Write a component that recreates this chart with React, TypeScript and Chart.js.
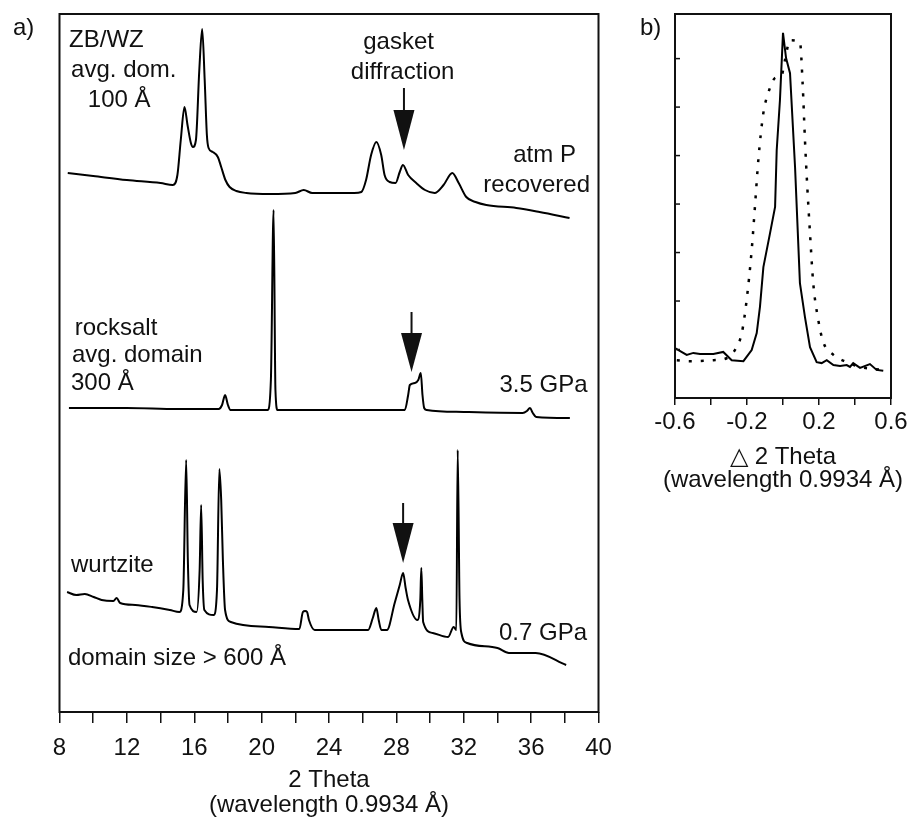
import React, { useEffect, useRef } from 'react';
import { Chart, registerables } from 'chart.js';

Chart.register(...registerables);

// ---------- Panel a: XRD patterns (2 Theta, intensity in arbitrary offset units) ----------
const thetaAtm = [8.49, 10, 12, 14, 14.73, 15.0, 15.2, 15.42, 15.6, 15.8, 15.92, 16.1, 16.3, 16.47, 16.62, 16.75, 16.85, 17.1, 17.4, 17.6, 17.85, 18.1, 18.5, 19.09, 20.5, 22.0, 22.5, 23.0, 25.5, 25.92, 26.2, 26.5, 26.81, 27.1, 27.3, 27.6, 27.95, 28.2, 28.39, 28.7, 29.18, 29.7, 30.27, 30.8, 31.32, 31.7, 32.15, 32.7, 33.34, 35.12, 36.5, 38.28];
const intAtm = [539, 536, 532, 529, 527, 537, 572, 605, 587, 569, 565, 572, 642, 683, 632, 577, 564, 560, 555, 545, 532, 525, 521, 519, 518, 519, 522, 519, 519, 520, 532, 557, 570, 557, 537, 530, 529, 540, 547, 537, 529, 522, 519, 527, 539, 529, 515, 510, 507, 504, 500, 494];

const thetaRock = [8.56, 12, 15, 17.45, 17.65, 17.83, 18.0, 18.15, 20.0, 20.35, 20.55, 20.71, 20.82, 20.95, 21.2, 25, 28.5, 28.7, 28.8, 29.1, 29.3, 29.45, 29.55, 29.65, 29.8, 32, 35.5, 35.75, 35.93, 36.1, 36.3, 38.3];
const intRock = [304, 304, 303, 303, 307, 317, 307, 302, 302, 302, 332, 502, 322, 302, 302, 302, 302, 317, 327, 329, 332, 339, 317, 304, 302, 300, 299, 301, 304, 299, 295, 294];

const thetaWurtz = [8.45, 9.0, 9.5, 10.03, 10.5, 11.2, 11.39, 11.6, 12.5, 13.5, 14.55, 15.12, 15.35, 15.52, 15.62, 15.72, 16.14, 16.32, 16.41, 16.5, 16.6, 17.15, 17.35, 17.49, 17.6, 17.7, 17.83, 18.17, 20.43, 22.24, 22.45, 22.58, 22.7, 22.81, 23.15, 26.32, 26.6, 26.81, 26.95, 27.11, 27.44, 27.9, 28.2, 28.4, 28.55, 28.69, 29.25, 29.42, 29.48, 29.54, 29.59, 30.16, 31.07, 31.4, 31.56, 31.64, 31.75, 31.86, 32.2, 34.0, 34.68, 36.27, 38.08];
const intWurtz = [120, 117, 118, 115, 112, 111, 114, 109, 107, 105, 102, 100, 122, 252, 152, 107, 100, 142, 207, 132, 102, 97, 122, 243, 212, 152, 102, 90, 85, 83, 100, 101, 100, 92, 82, 82, 94, 104, 92, 82, 82, 109, 127, 139, 124, 112, 92, 112, 144, 112, 90, 79, 75, 85, 82, 262, 112, 79, 69, 64, 59, 59, 47];

const xMinA = 8;
const xMaxA = 40;
const yMaxA = 698;

// ---------- Panel b: peak profiles (Delta 2 Theta) ----------
const deltaSolid = [-0.6, -0.535, -0.498, -0.461, -0.387, -0.332, -0.285, -0.22, -0.174, -0.146, -0.128, -0.109, -0.072, -0.044, -0.035, -0.017, 0.0, 0.017, 0.039, 0.067, 0.094, 0.122, 0.15, 0.187, 0.215, 0.243, 0.28, 0.317, 0.354, 0.372, 0.39, 0.428, 0.483, 0.52, 0.557];
const intSolid = [1.03, 0.89, 0.93, 0.91, 0.91, 0.95, 0.78, 0.76, 0.99, 1.34, 1.88, 2.7, 3.4, 3.94, 5.11, 6.14, 7.53, 7.01, 6.7, 4.76, 2.37, 1.67, 1.05, 0.74, 0.72, 0.78, 0.68, 0.66, 0.68, 0.64, 0.72, 0.62, 0.7, 0.58, 0.56];

const deltaDotted = [-0.59, -0.52, -0.387, -0.313, -0.267, -0.229, -0.202, -0.174, -0.156, -0.137, -0.109, -0.082, -0.044, -0.007, 0.011, 0.039, 0.094, 0.109, 0.122, 0.135, 0.15, 0.168, 0.196, 0.224, 0.28, 0.354, 0.428, 0.557];
const intDotted = [0.78, 0.76, 0.78, 0.82, 0.99, 1.34, 2.02, 3.05, 3.94, 4.91, 5.88, 6.29, 6.6, 6.66, 6.97, 7.38, 7.34, 6.49, 5.32, 4.35, 3.4, 2.37, 1.61, 1.15, 0.89, 0.74, 0.64, 0.58];

const xMinB = -0.6;
const xMaxB = 0.6;
const yMaxB = 7.92;
const yTicksB = [1, 2, 3, 4, 5, 6, 7];
const labeledB = [-0.6, -0.2, 0.2, 0.6];
const titleB = ['△ 2 Theta', '(wavelength 0.9934 Å)'];

// annotations of panel a (anchored in data units)
const notesA = [
  { text: 'ZB/WZ', x: 8.57, y: 672, align: 'left' },
  { text: 'avg. dom.', x: 8.69, y: 642, align: 'left' },
  { text: '100 Å', x: 9.68, y: 612, align: 'left' },
  { text: 'gasket', x: 28.13, y: 670, align: 'center' },
  { text: 'diffraction', x: 28.37, y: 640, align: 'center' },
  { text: 'atm P', x: 36.8, y: 557, align: 'center' },
  { text: 'recovered', x: 36.33, y: 527, align: 'center' },
  { text: 'rocksalt', x: 8.9, y: 384, align: 'left' },
  { text: 'avg. domain', x: 8.74, y: 357, align: 'left' },
  { text: '300 Å', x: 8.68, y: 329, align: 'left' },
  { text: '3.5 GPa', x: 39.35, y: 327, align: 'right' },
  { text: 'wurtzite', x: 8.68, y: 147, align: 'left' },
  { text: 'domain size > 600 Å', x: 8.5, y: 54, align: 'left' },
  { text: '0.7 GPa', x: 39.32, y: 79, align: 'right' },
];

const arrowsA = [
  { x: 28.45, top: 624, triTop: 602, tip: 562, half: 10.5 },
  { x: 28.9, top: 400, triTop: 379, tip: 340, half: 10.5 },
  { x: 28.4, top: 209, triTop: 189, tip: 149, half: 10.5 },
];

const FONT = '"Liberation Sans", Arial, Helvetica, sans-serif';
const INK = '#111';

const pts = (xs: number[], ys: number[]) => xs.map((x, i) => ({ x, y: ys[i] }));

function makeFramePlugin(notes: any[], arrows: any[], innerYTicks: number[], title: string[] | null) {
  return {
    id: 'frameNotes',
    afterDraw(chart: any) {
      const { ctx, chartArea: a, scales } = chart;
      ctx.save();
      ctx.strokeStyle = INK;
      ctx.lineWidth = 2;
      ctx.strokeRect(a.left, a.top, a.right - a.left, a.bottom - a.top);
      ctx.lineWidth = 1.5;
      for (const v of innerYTicks) {
        const py = scales.y.getPixelForValue(v);
        ctx.beginPath();
        ctx.moveTo(a.left, py);
        ctx.lineTo(a.left + 5, py);
        ctx.stroke();
      }
      for (const ar of arrows) {
        const px = scales.x.getPixelForValue(ar.x);
        const yTop = scales.y.getPixelForValue(ar.top);
        const yTri = scales.y.getPixelForValue(ar.triTop);
        const yTip = scales.y.getPixelForValue(ar.tip);
        ctx.lineWidth = 2;
        ctx.beginPath();
        ctx.moveTo(px, yTop);
        ctx.lineTo(px, yTri);
        ctx.stroke();
        ctx.fillStyle = INK;
        ctx.beginPath();
        ctx.moveTo(px - ar.half, yTri);
        ctx.lineTo(px + ar.half, yTri);
        ctx.lineTo(px, yTip);
        ctx.closePath();
        ctx.fill();
      }
      ctx.fillStyle = INK;
      ctx.font = `24px ${FONT}`;
      ctx.textBaseline = 'middle';
      for (const n of notes) {
        ctx.textAlign = n.align;
        ctx.fillText(n.text, scales.x.getPixelForValue(n.x), scales.y.getPixelForValue(n.y));
      }
      if (title) {
        ctx.textAlign = 'center';
        const cx = (a.left + a.right) / 2;
        title.forEach((t, i) => ctx.fillText(t, cx, a.bottom + 59 + i * 23));
      }
      ctx.restore();
    },
  };
}

function PanelA() {
  const ref = useRef<HTMLCanvasElement | null>(null);
  useEffect(() => {
    if (!ref.current) return;
    const line = { showLine: true, pointRadius: 0, borderColor: '#000', borderWidth: 2, cubicInterpolationMode: 'monotone', fill: false };
    const chart = new Chart(ref.current, {
      type: 'scatter',
      data: {
        datasets: [
          { ...line, label: 'atm P recovered', data: pts(thetaAtm, intAtm) },
          { ...line, label: '3.5 GPa', data: pts(thetaRock, intRock) },
          { ...line, label: '0.7 GPa', data: pts(thetaWurtz, intWurtz) },
        ],
      },
      options: {
        responsive: false,
        animation: false,
        devicePixelRatio: 1,
        layout: { padding: { left: 59.5, right: 41.5, top: 14, bottom: 0 } },
        plugins: { legend: { display: false }, tooltip: { enabled: false } },
        scales: {
          x: {
            type: 'linear',
            min: xMinA,
            max: xMaxA,
            afterFit: (s: any) => { s.height = 108; },
            border: { display: false },
            grid: { drawOnChartArea: false, drawTicks: true, tickLength: 11, color: INK, lineWidth: 1.5 },
            ticks: {
              stepSize: 2,
              autoSkip: false,
              maxRotation: 0,
              padding: 11,
              color: INK,
              font: { family: FONT, size: 24 },
              callback: (v: any) => (Number(v) % 4 === 0 ? String(v) : ''),
            },
            title: {
              display: true,
              text: ['2 Theta', '(wavelength 0.9934 Å)'],
              color: INK,
              font: { family: FONT, size: 24, lineHeight: '25px' },
              padding: { top: 0, bottom: 2.5 },
            },
          },
          y: { type: 'linear', min: 0, max: yMaxA, display: false },
        },
      },
      plugins: [makeFramePlugin(notesA, arrowsA, [], null)],
    });
    return () => chart.destroy();
  }, []);
  return <canvas ref={ref} width={640} height={820} style={{ width: 640, height: 820, display: 'block' }} />;
}

function PanelB() {
  const ref = useRef<HTMLCanvasElement | null>(null);
  useEffect(() => {
    if (!ref.current) return;
    const chart = new Chart(ref.current, {
      type: 'scatter',
      data: {
        datasets: [
          { label: 'solid', data: pts(deltaSolid, intSolid), showLine: true, pointRadius: 0, borderColor: '#000', borderWidth: 2, tension: 0 },
          { label: 'dotted', data: pts(deltaDotted, intDotted), showLine: true, pointRadius: 0, borderColor: '#000', borderWidth: 2.5, borderDash: [3, 9], cubicInterpolationMode: 'monotone' },
        ],
      },
      options: {
        responsive: false,
        animation: false,
        devicePixelRatio: 1,
        layout: { padding: { left: 35, right: 20, top: 14, bottom: 0 } },
        plugins: { legend: { display: false }, tooltip: { enabled: false } },
        scales: {
          x: {
            type: 'linear',
            min: xMinB,
            max: xMaxB,
            afterFit: (s: any) => { s.height = 102; },
            border: { display: false },
            grid: { drawOnChartArea: false, drawTicks: true, tickLength: 7, color: INK, lineWidth: 1.5 },
            ticks: {
              stepSize: 0.2,
              autoSkip: false,
              maxRotation: 0,
              padding: 3,
              color: INK,
              font: { family: FONT, size: 24 },
              callback: (v: any) => {
                const r = Math.round(Number(v) * 10) / 10;
                return labeledB.includes(r) ? r.toFixed(1) : '';
              },
            },
          },
          y: { type: 'linear', min: 0, max: yMaxB, display: false },
        },
      },
      plugins: [makeFramePlugin([], [], yTicksB, titleB)],
    });
    return () => chart.destroy();
  }, []);
  return <canvas ref={ref} width={271} height={500} style={{ width: 271, height: 500, display: 'block' }} />;
}

export default function App() {
  const tag: React.CSSProperties = { position: 'absolute', font: `24px ${FONT}`, lineHeight: '24px', color: INK };
  return (
    <div style={{ position: 'absolute', left: 0, top: 0, width: 911, height: 820, background: '#fff', overflow: 'hidden' }}>
      <div style={{ position: 'absolute', left: 0, top: 0 }}><PanelA /></div>
      <div style={{ position: 'absolute', left: 640, top: 0 }}><PanelB /></div>
      <div style={{ ...tag, left: 13, top: 15 }}>a)</div>
      <div style={{ ...tag, left: 640, top: 15 }}>b)</div>
    </div>
  );
}
